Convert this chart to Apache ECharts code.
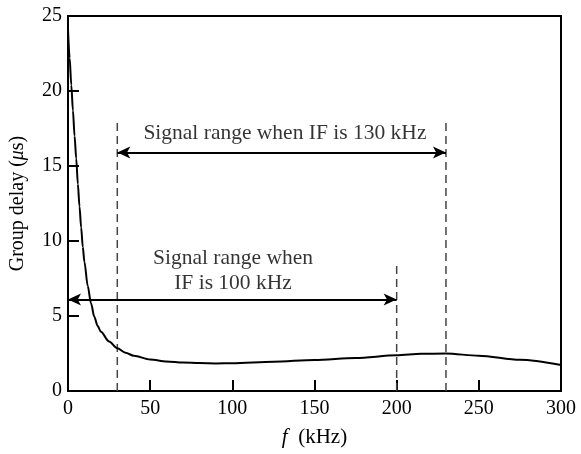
<!DOCTYPE html>
<html><head><meta charset="utf-8">
<script src="https://cdn.jsdelivr.net/npm/echarts@6/dist/echarts.min.js"></script>
<style>html,body{margin:0;padding:0;background:#fff}#c{width:581px;height:454px}</style>
</head><body><div id="c"></div>
<script>
const freq = [0,1,2,3,4,5,6,7,8,9,10,12,14,16,18,20,25,30,35,40,50,60,70,80,90,100,125,150,175,200,215,230,250,275,300];
const delay = [24.1,22.2,20.4,18.7,17.0,15.5,13.8,12.3,10.9,9.6,8.6,7.0,5.85,4.95,4.35,3.95,3.3,2.85,2.55,2.35,2.1,1.97,1.9,1.86,1.84,1.85,1.95,2.07,2.2,2.38,2.48,2.5,2.35,2.08,1.73];
const dashX = [30, 230, 200];
const dashTop = [17.9, 17.9, 8.4];
const arrowFrom = [30, 0];
const arrowTo = [230, 200];
const arrowY = [15.9, 6.1];
const labelText = ['Signal range when IF is 130 kHz', 'Signal range when', 'IF is 100 kHz'];
const labelX = [132, 100.4, 100.4];
const labelY = [17.15, 8.87, 7.2];
const xTicks = [0,50,100,150,200,250,300];
const yTicks = [0,5,10,15,20,25];

const font = '"Liberation Serif","Times New Roman",serif';
const chart = echarts.init(document.getElementById('c'), null, {renderer:'canvas'});
const series = [{
  type:'line', data: freq.map((f,i)=>[f,delay[i]]), symbol:'none', smooth:0.3, smoothMonotone:'x',
  lineStyle:{color:'#000', width:2}, z:5,
  markLine:{
    silent:true, symbol:['arrow','arrow'], symbolSize:[9,13],
    lineStyle:{color:'#000', width:2, type:'solid'}, label:{show:false},
    data: arrowFrom.map((a,i)=>[{coord:[a,arrowY[i]]},{coord:[arrowTo[i],arrowY[i]]}])
  }
}];
dashX.forEach((x,i)=>{
  series.push({type:'line', data:[[x,0],[x,dashTop[i]]], symbol:'none',
    lineStyle:{color:'#444', width:1.5, type:[8,5]}, z:3});
});
series.push({type:'scatter', symbolSize:0, data: labelText.map((t,i)=>({value:[labelX[i],labelY[i]], name:t})),
  label:{show:true, position:'inside', formatter:p=>p.name, color:'#000', fontFamily:font, fontSize:21.5}, z:6});

chart.setOption({
  animation:false,
  grid:{left:68, right:20, top:16, bottom:63, show:true, borderColor:'#000', borderWidth:2},
  xAxis:{type:'value', min:0, max:300, interval:50,
    name:'{i|f}  (kHz)', nameLocation:'middle', nameGap:36,
    nameTextStyle:{fontFamily:font, fontSize:21, color:'#000', rich:{i:{fontFamily:font, fontSize:21, fontStyle:'italic', color:'#000'}}},
    axisLine:{show:true, lineStyle:{color:'#000', width:2}},
    axisTick:{show:true, inside:true, length:11, lineStyle:{color:'#000', width:2}},
    axisLabel:{color:'#000', fontFamily:font, fontSize:20, margin:8, formatter:v=>xTicks.includes(v)?String(v):''},
    splitLine:{show:false}},
  yAxis:{type:'value', min:0, max:25, interval:5,
    name:'Group delay ({i|μ}s)', nameLocation:'middle', nameGap:40,
    nameTextStyle:{fontFamily:font, fontSize:20, color:'#000', rich:{i:{fontFamily:font, fontSize:20, fontStyle:'italic', color:'#000'}}},
    axisLine:{show:true, lineStyle:{color:'#000', width:2}},
    axisTick:{show:true, inside:true, length:11, lineStyle:{color:'#000', width:2}},
    axisLabel:{color:'#000', fontFamily:font, fontSize:20, margin:6, formatter:v=>yTicks.includes(v)?String(v):''},
    splitLine:{show:false}},
  series
});
</script></body></html>
